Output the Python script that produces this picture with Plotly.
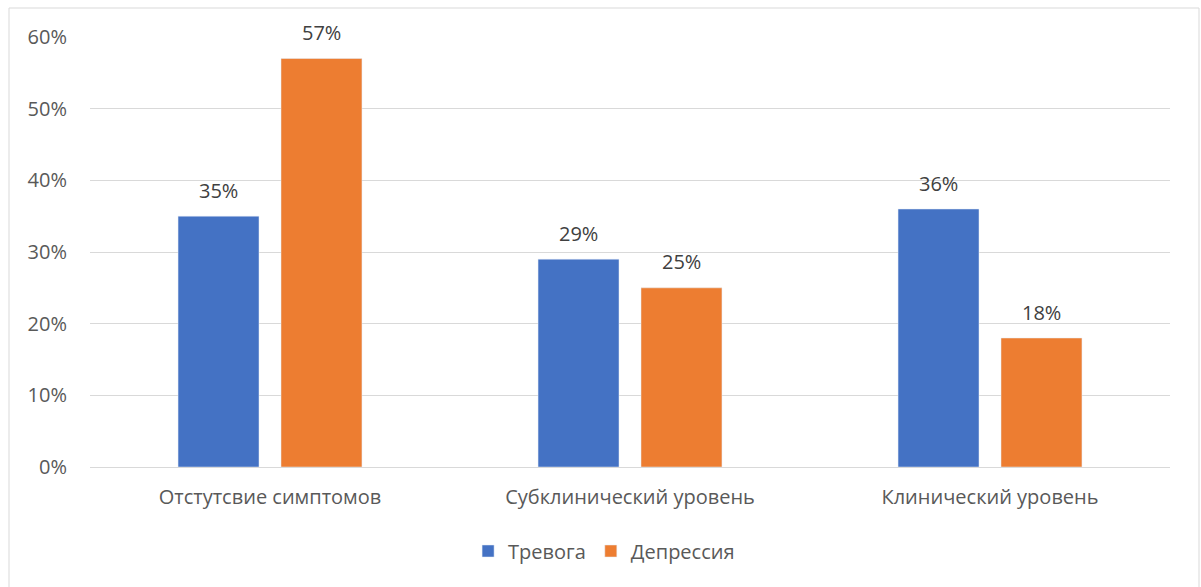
import plotly.graph_objects as go

categories = ["Отстутсвие симптомов", "Субклинический уровень", "Клинический уровень"]
trevoga = [0.35, 0.29, 0.36]
depressiya = [0.57, 0.25, 0.18]
tick_vals = [0, 0.1, 0.2, 0.3, 0.4, 0.5, 0.6]
tick_text = ["0%", "10%", "20%", "30%", "40%", "50%", "60%"]

FONT = "Open Sans"
FS = 20
fig = go.Figure()
fig.add_trace(go.Bar(name="Тревога", x=categories, y=trevoga, marker_color="#4472C4"))
fig.add_trace(go.Bar(name="Депрессия", x=categories, y=depressiya, marker_color="#ED7D31"))

annotations = []
for series, shift in ((trevoga, -51.5), (depressiya, 51.5)):
    for c, v in zip(categories, series):
        annotations.append(dict(x=c, y=v, xref="x", yref="y", text=f"{v*100:.0f}%",
                                showarrow=False, xshift=shift, yshift=26, yanchor="middle",
                                font=dict(size=FS, color="#404040", family=FONT)))

fig.update_layout(
    width=1201, height=587,
    margin=dict(l=90, r=31, t=37, b=120),
    paper_bgcolor="white", plot_bgcolor="white",
    barmode="group", bargap=0.428, bargroupgap=0.2136,
    font=dict(family=FONT, color="#595959", size=FS),
    legend=dict(orientation="h", x=0.476, xanchor="center", y=-0.15, yanchor="top",
                font=dict(size=FS, color="#595959"), itemwidth=30),
    showlegend=True,
    annotations=annotations,
    xaxis=dict(showgrid=False, showline=False, ticks="", tickfont=dict(size=FS),
               ticklabelstandoff=16),
    yaxis=dict(range=[0, 0.6], tickvals=tick_vals, ticktext=tick_text,
               showgrid=True, gridcolor="#D9D9D9", gridwidth=1, zeroline=True,
               zerolinecolor="#D9D9D9", zerolinewidth=1, showline=False, ticks="",
               tickfont=dict(size=FS), ticklabelstandoff=22),
    shapes=[dict(type="rect", xref="paper", yref="paper",
                 x0=(9-90)/1080, x1=(1199-90)/1080, y0=(467-600)/430, y1=(467-8)/430,
                 line=dict(color="#D9D9D9", width=1), fillcolor="rgba(0,0,0,0)", layer="below")],
)
fig.write_html("out.html")
